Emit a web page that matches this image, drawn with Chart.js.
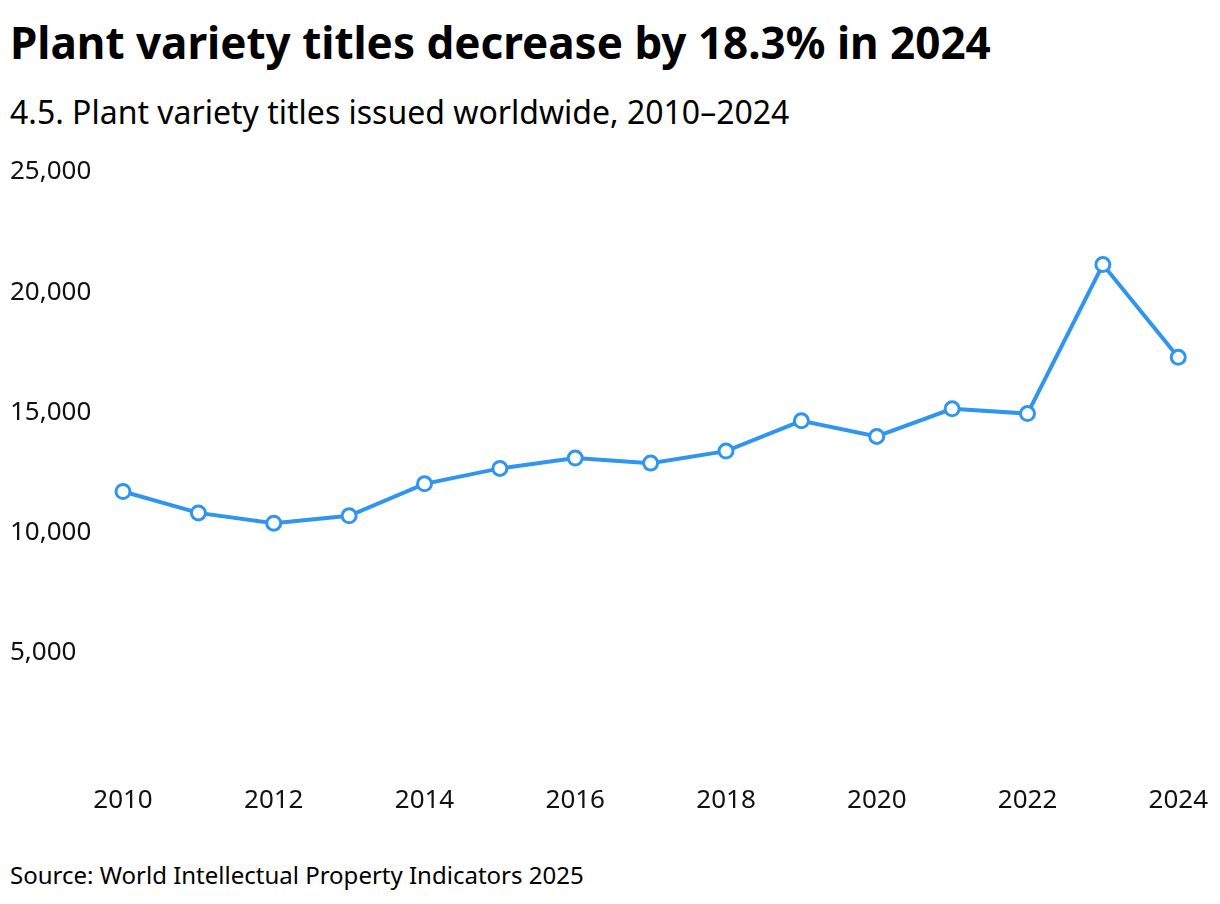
<!DOCTYPE html>
<html>
<head>
<meta charset="utf-8">
<script src="https://cdn.jsdelivr.net/npm/chart.js@4"></script>
<style>
  html, body { margin: 0; padding: 0; background: #fff; }
  body { width: 1220px; height: 904px; position: relative; overflow: hidden; font-family: "Noto Sans", sans-serif; color: #000; }
  #title { position: absolute; left: 10px; top: 16px; font-size: 44px; font-weight: 700; white-space: nowrap; line-height: 1.2; }
  #subtitle { position: absolute; left: 10px; top: 93px; font-size: 32px; white-space: nowrap; line-height: 1.2; }
  #source { position: absolute; left: 10px; top: 861px; font-size: 24px; white-space: nowrap; line-height: 1.2; }
  #wrap { position: absolute; left: 0; top: 151px; width: 1220px; height: 680px; }
</style>
</head>
<body>
<div id="title">Plant variety titles decrease by 18.3% in 2024</div>
<div id="subtitle">4.5. Plant variety titles issued worldwide, 2010–2024</div>
<div id="wrap"><canvas id="c"></canvas></div>
<div id="source">Source: World Intellectual Property Indicators 2025</div>
<script>
const years = ["2010","2011","2012","2013","2014","2015","2016","2017","2018","2019","2020","2021","2022","2023","2024"];
const titlesIssued = [11710, 10820, 10390, 10700, 12030, 12670, 13100, 12890, 13390, 14650, 14000, 15150, 14950, 21150, 17290];
const yTicks = [0, 5000, 10000, 15000, 20000, 25000];

const blue = "#2f95ee";
new Chart(document.getElementById("c"), {
  type: "line",
  data: {
    labels: years,
    datasets: [{
      data: titlesIssued,
      borderColor: blue,
      borderWidth: 4,
      pointBackgroundColor: "#fff",
      pointBorderColor: blue,
      pointBorderWidth: 3,
      pointRadius: 7,
      tension: 0
    }]
  },
  options: {
    responsive: true,
    maintainAspectRatio: false,
    animation: false,
    layout: { padding: { left: 10, right: 41, top: 21, bottom: 0 } },
    plugins: { legend: { display: false }, tooltip: { enabled: false } },
    scales: {
      x: {
        offset: false,
        grid: { display: false, drawTicks: false },
        border: { display: false },
        ticks: {
          color: "#111",
          font: { family: "Noto Sans", size: 26 },
          padding: 12,
          maxRotation: 0,
          autoSkip: false,
          callback: function(v, i) { return i % 2 === 0 ? years[i] : ""; }
        },
        afterFit: function(s) { s.height = 58; }
      },
      y: {
        min: yTicks[0],
        max: yTicks[yTicks.length - 1],
        grid: { display: false, drawTicks: false },
        border: { display: false },
        afterBuildTicks: function(s) { s.ticks = yTicks.map(v => ({ value: v })); },
        ticks: {
          color: "#111",
          crossAlign: "far",
          font: { family: "Noto Sans", size: 26 },
          callback: function(v) { return v === 0 ? "" : v.toLocaleString("en-US"); }
        },
        afterFit: function(s) { s.width = 113; }
      }
    }
  }
});
</script>
</body>
</html>
